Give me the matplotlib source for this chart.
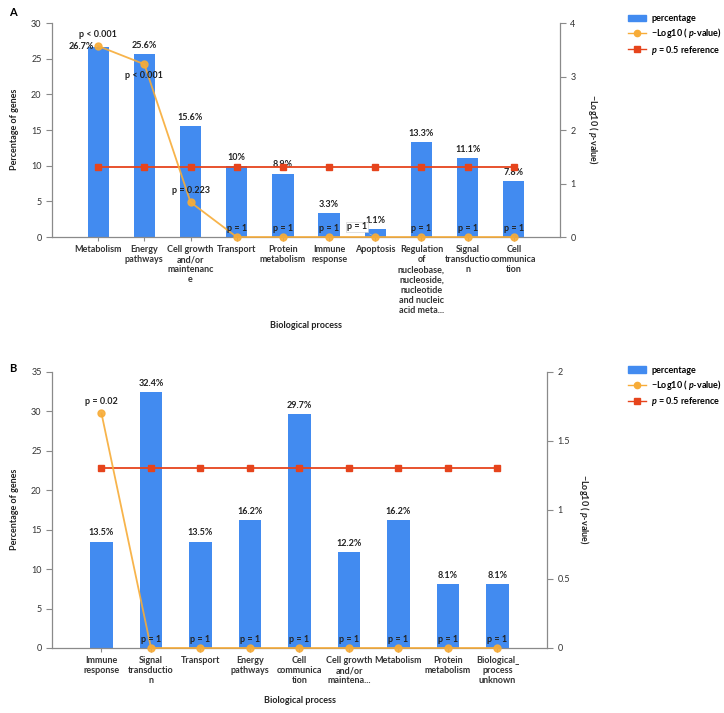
import matplotlib
matplotlib.use("Agg")
import matplotlib.pyplot as plt
from matplotlib.patches import Patch
from matplotlib.lines import Line2D

plt.rcParams['font.family'] = ['Lato', 'DejaVu Sans']
plt.rcParams['mathtext.fontset'] = 'custom'
plt.rcParams['mathtext.rm'] = 'Lato:bold'
plt.rcParams['mathtext.it'] = 'Lato:bold:italic'

# panel A data
cats_a = ["Metabolism", "Energy\npathways", "Cell growth\nand/or\nmaintenanc\ne", "Transport",
          "Protein\nmetabolism", "Immune\nresponse", "Apoptosis",
          "Regulation\nof\nnucleobase,\nnucleoside,\nnucleotide\nand nucleic\nacid meta...",
          "Signal\ntransductio\nn", "Cell\ncommunica\ntion"]
pct_a = [26.7, 25.6, 15.6, 10, 8.9, 3.3, 1.1, 13.3, 11.1, 7.8]
pct_lab_a = ["26.7%", "25.6%", "15.6%", "10%", "8.9%", "3.3%", "1.1%", "13.3%", "11.1%", "7.8%"]
logp_a = [3.57, 3.23, 0.65, 0, 0, 0, 0, 0, 0, 0]
plab_a = ["p < 0.001", "p < 0.001", "p = 0.223", "p = 1", "p = 1", "p = 1", "p = 1", "p = 1", "p = 1", "p = 1"]

# panel B data
cats_b = ["Immune\nresponse", "Signal\ntransductio\nn", "Transport", "Energy\npathways",
          "Cell\ncommunica\ntion", "Cell growth\nand/or\nmaintena...", "Metabolism",
          "Protein\nmetabolism", "Biological_\nprocess\nunknown"]
pct_b = [13.5, 32.4, 13.5, 16.2, 29.7, 12.2, 16.2, 8.1, 8.1]
pct_lab_b = ["13.5%", "32.4%", "13.5%", "16.2%", "29.7%", "12.2%", "16.2%", "8.1%", "8.1%"]
logp_b = [1.70, 0, 0, 0, 0, 0, 0, 0, 0]
plab_b = ["p = 0.02", "p = 1", "p = 1", "p = 1", "p = 1", "p = 1", "p = 1", "p = 1", "p = 1"]

ref_val = 1.301

BLUE = '#428bf0'
ORANGE = '#f7ac38'
RED = '#e6441c'
GREY = '#8a8a8a'
FS = 6.5


def panel(rect, cats, pct, pct_lab, logp, plab, ylim_l, yticks_l, ylim_r, yticks_r, r_ticklabels):
    ax = fig.add_axes(rect)
    n = len(cats)
    x = list(range(n))
    ax.bar(x, pct, width=0.46, color=BLUE, zorder=2)
    ax.set_xlim(-1, n)
    ax.set_ylim(*ylim_l)
    ax.set_yticks(yticks_l)
    ax.set_xticks(x)
    ax.set_xticklabels(cats, fontsize=FS, fontweight='bold', color='#333333', linespacing=1.15)
    for s in ['top', 'right']:
        ax.spines[s].set_visible(False)
    for s in ['left', 'bottom']:
        ax.spines[s].set_color(GREY)
        ax.spines[s].set_linewidth(0.9)
    ax.tick_params(axis='y', labelsize=FS, colors='#333333', length=4, color=GREY, width=0.8)
    ax.tick_params(axis='x', length=3, color=GREY, width=0.8, pad=3)

    ax2 = ax.twinx()
    ax2.set_ylim(*ylim_r)
    ax2.set_yticks(yticks_r)
    ax2.set_yticklabels(r_ticklabels)
    for s in ['top', 'left', 'bottom']:
        ax2.spines[s].set_visible(False)
    ax2.spines['right'].set_color(GREY)
    ax2.spines['right'].set_linewidth(0.9)
    ax2.tick_params(axis='y', labelsize=FS, colors='#333333', length=4, color=GREY, width=0.8)
    ax2.plot(x, [ref_val] * n, color=RED, marker='s', markersize=4.5, linewidth=1.3, zorder=3)
    ax2.plot(x, logp, color=ORANGE, marker='o', markersize=5, linewidth=1.3, zorder=4,
             clip_on=False, alpha=0.9)
    ax.set_zorder(0)
    ax2.set_zorder(1)
    ax.patch.set_visible(False)

    # percentage labels above bars
    for xi, v, t in zip(x, pct, pct_lab):
        ax.annotate(t, (xi, v), xytext=(0, 3), textcoords='offset points',
                    ha='center', va='bottom', fontsize=FS, fontweight='bold', color='#222222')
    return ax, ax2, x


fig = plt.figure(figsize=(7.24, 7.13), dpi=100)

# ---------- panel A ----------
axA, axA2, xa = panel([0.0718, 0.6676, 0.7017, 0.3001], cats_a, pct_a, pct_lab_a, logp_a, plab_a,
                      (0, 30), range(0, 31, 5), (0, 4), range(0, 5), ['0', '1', '2', '3', '4'])
# move 26.7% label to the left of the point
axA.texts[0].set_visible(False)
axA.annotate(pct_lab_a[0], (xa[0], pct_a[0]), xytext=(-3, 0), textcoords='offset points',
             ha='right', va='center', fontsize=FS, fontweight='bold', color='#222222')
for xi, v, t in zip(xa, logp_a, plab_a):
    if xi == 1:
        off, va = (0, -5), 'top'
    elif xi == 6:
        axA2.annotate(t, (xi, v), xytext=(-6, 4), textcoords='offset points', ha='right',
                      va='bottom', fontsize=FS, fontweight='bold', color='#222222',
                      bbox=dict(boxstyle='square,pad=0.1', fc='white', ec='#c8c8c8', lw=0.4),
                      arrowprops=dict(arrowstyle='-', color='#c8c8c8', lw=0.4))
        continue
    elif v > 0:
        off, va = (0, 5), 'bottom'
    else:
        off, va = (0, 3), 'bottom'
    axA2.annotate(t, (xi, v), xytext=off, textcoords='offset points', ha='center', va=va,
                  fontsize=FS, fontweight='bold', color='#222222', zorder=6)

fig.text(0.012, 0.978, 'A', fontsize=8, fontweight='bold')
fig.text(0.02, 0.818, 'Percentage of genes', rotation=90, ha='center', va='center',
         fontsize=FS, fontweight='bold', color='#222222')
fig.text(0.819, 0.818, r'$-$Log10 ( $p$-value)', rotation=270, ha='center', va='center',
         fontsize=FS, fontweight='bold', color='#222222')
fig.text(0.423, 0.543, 'Biological process', ha='center', va='center',
         fontsize=FS, fontweight='bold', color='#222222')

# ---------- panel B ----------
axB, axB2, xb = panel([0.0718, 0.0912, 0.6837, 0.3871], cats_b, pct_b, pct_lab_b, logp_b, plab_b,
                      (0, 35), range(0, 36, 5), (0, 2), [0, 0.5, 1, 1.5, 2],
                      ['0', '0.5', '1', '1.5', '2'])
for xi, v, t in zip(xb, logp_b, plab_b):
    off = (0, 5) if v > 0 else (0, 3)
    axB2.annotate(t, (xi, v), xytext=off, textcoords='offset points', ha='center', va='bottom',
                  fontsize=FS, fontweight='bold', color='#222222', zorder=6)

fig.text(0.012, 0.478, 'B', fontsize=8, fontweight='bold')
fig.text(0.02, 0.285, 'Percentage of genes', rotation=90, ha='center', va='center',
         fontsize=FS, fontweight='bold', color='#222222')
fig.text(0.806, 0.285, r'$-$Log10 ( $p$-value)', rotation=270, ha='center', va='center',
         fontsize=FS, fontweight='bold', color='#222222')
fig.text(0.414, 0.018, 'Biological process', ha='center', va='center',
         fontsize=FS, fontweight='bold', color='#222222')

# legends
handles = [Patch(color=BLUE, label='percentage'),
           Line2D([0], [0], color=ORANGE, marker='o', markersize=4.5, lw=1, label=r'$-$Log10 ( $p$-value)'),
           Line2D([0], [0], color=RED, marker='s', markersize=4.5, lw=1, label=r'$p$ = 0.5 reference')]
for y in (0.985, 0.492):
    fig.legend(handles=handles, loc='upper left', bbox_to_anchor=(0.862, y), frameon=False,
               fontsize=FS, handlelength=2.0, handletextpad=0.6, labelspacing=0.35,
               prop={'weight': 'bold', 'size': FS}, borderaxespad=0)

fig.savefig('out.png', dpi=100)
